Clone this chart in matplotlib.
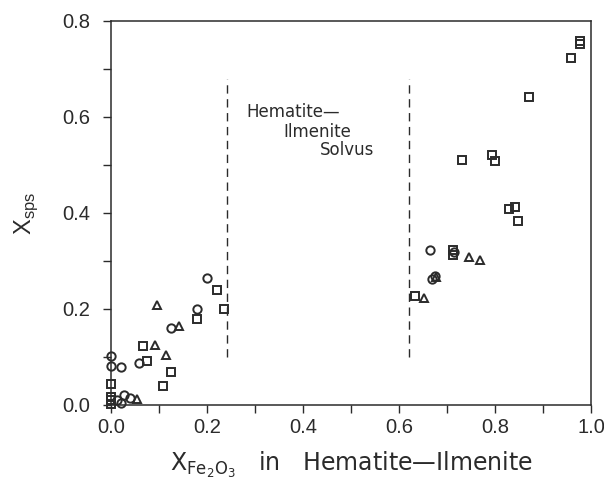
import numpy as np
import matplotlib.pyplot as plt
from matplotlib.ticker import MultipleLocator

plt.rcParams['font.family'] = ['Liberation Sans', 'DejaVu Sans']
plt.rcParams['mathtext.fontset'] = 'custom'
plt.rcParams['mathtext.rm'] = 'Liberation Sans'

# ---- data ----
sq_x = [0.000, 0.000, 0.000, 0.000, 0.067, 0.074, 0.109, 0.124, 0.180, 0.220, 0.236,
        0.633, 0.713, 0.713, 0.731, 0.794, 0.801, 0.830, 0.842, 0.848, 0.871,
        0.959, 0.978, 0.978]
sq_y = [0.003, 0.010, 0.016, 0.043, 0.122, 0.092, 0.039, 0.069, 0.180, 0.240, 0.201,
        0.228, 0.322, 0.313, 0.510, 0.520, 0.508, 0.408, 0.412, 0.383, 0.642,
        0.722, 0.752, 0.758]

ci_x = [0.000, 0.000, 0.012, 0.020, 0.021, 0.027, 0.040, 0.059, 0.124, 0.180, 0.199,
        0.665, 0.715, 0.668, 0.675]
ci_y = [0.103, 0.082, 0.010, 0.005, 0.080, 0.021, 0.015, 0.088, 0.161, 0.199, 0.264,
        0.323, 0.318, 0.262, 0.268]

tr_x = [0.055, 0.092, 0.095, 0.114, 0.142, 0.653, 0.678, 0.746, 0.769]
tr_y = [0.012, 0.126, 0.208, 0.105, 0.165, 0.222, 0.266, 0.309, 0.302]

solvus_x = [0.242, 0.621]
solvus_y = (0.10, 0.68)
solvus_lines = ['Hematite\u2014', 'Ilmenite', 'Solvus']

ink = '#2b2b2b'

fig = plt.figure(figsize=(6.04, 4.79), dpi=100)
ax = fig.add_axes([0.1838, 0.1545, 0.7947, 0.8017])

mk = dict(linestyle='none', markerfacecolor='none', markeredgecolor=ink,
          markeredgewidth=1.4, clip_on=False)
ax.plot(sq_x, sq_y, marker='s', markersize=5.2, **mk)
ax.plot(ci_x, ci_y, marker='o', markersize=6.0, **mk)
ax.plot(tr_x, tr_y, marker='^', markersize=6.0, **mk)

for xv in solvus_x:
    ax.plot([xv, xv], solvus_y, color=ink, linestyle=(0, (6, 4)), linewidth=1.0)

# staggered label between the two solvus limbs
for (tx, ty), line in zip([(0.283, 0.611), (0.359, 0.569), (0.435, 0.531)], solvus_lines):
    ax.text(tx, ty, line, fontsize=12, color=ink, va='center',
            family=['DejaVu Sans'])

ax.set_xlim(0, 1.0)
ax.set_ylim(0, 0.8)
ax.xaxis.set_major_locator(MultipleLocator(0.2))
ax.xaxis.set_minor_locator(MultipleLocator(0.1))
ax.yaxis.set_major_locator(MultipleLocator(0.2))
ax.yaxis.set_minor_locator(MultipleLocator(0.1))
ax.set_xticklabels([f'{v:.1f}' for v in ax.get_xticks()])
ax.set_yticklabels([f'{v:.1f}' for v in ax.get_yticks()])
ax.tick_params(which='both', direction='out', length=6, width=1.0, color=ink,
               labelsize=14.5, labelcolor=ink, top=False, right=False)
ax.tick_params(axis='y', pad=9)
for s in ax.spines.values():
    s.set_color(ink)
    s.set_linewidth(1.1)

ax.set_xlabel('X$_{\\mathregular{Fe_2O_3}}$   in   Hematite\u2014Ilmenite',
              fontsize=17, color=ink, labelpad=9, family=['DejaVu Sans'])
ax.set_ylabel('X$_{\\mathregular{sps}}$', fontsize=17, color=ink, labelpad=16)

fig.savefig('out.png', dpi=100)
